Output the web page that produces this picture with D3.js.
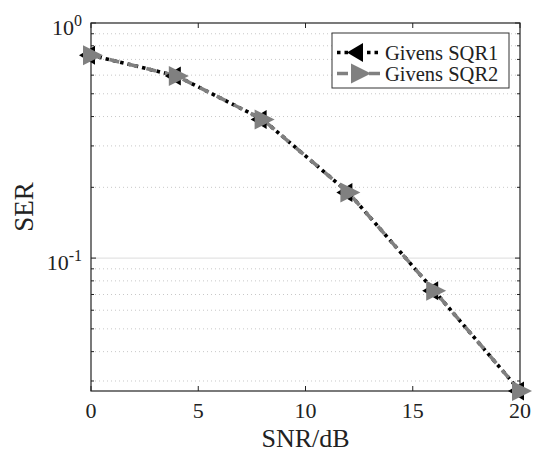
<!DOCTYPE html>
<html>
<head>
<meta charset="utf-8">
<script src="https://cdn.jsdelivr.net/npm/d3@7"></script>
<style>
  body { margin: 0; background: #fff; }
</style>
</head>
<body>
<script>
// chart data
const snr = [0, 4, 8, 12, 16, 20];
const serSQR1 = [0.73, 0.595, 0.389, 0.190, 0.0726, 0.0272];
const serSQR2 = [0.73, 0.595, 0.389, 0.190, 0.0726, 0.0272];
const seriesNames = ["Givens SQR1", "Givens SQR2"];
const xTicks = [0, 5, 10, 15, 20];
const yMajor = [1, 0.1];
const yMinor = [0.03, 0.04, 0.05, 0.06, 0.07, 0.08, 0.09, 0.2, 0.3, 0.4, 0.5, 0.6, 0.7, 0.8, 0.9];

const width = 535, height = 457;
const padL = 91, padR = 520, padT = 23, padB = 391;

const svg = d3.select("body").append("svg")
  .attr("width", width)
  .attr("height", height)
  .style("font-family", "'Liberation Serif', 'Times New Roman', Times, serif");

const x = d3.scaleLinear().domain([0, 20]).range([padL, padR]);
const y = d3.scaleLog().domain([0.0272, 1]).range([padB, padT]);

// grid
svg.append("g").selectAll("line")
  .data(yMinor)
  .join("line")
  .attr("x1", padL).attr("x2", padR)
  .attr("y1", d => y(d)).attr("y2", d => y(d))
  .attr("stroke", "#c8c8c8")
  .attr("stroke-width", 1)
  .attr("stroke-dasharray", "1,3");

svg.append("line")
  .attr("x1", padL).attr("x2", padR)
  .attr("y1", y(0.1)).attr("y2", y(0.1))
  .attr("stroke", "#e3e3e3")
  .attr("stroke-width", 1.2);

// ticks (inward, on all four sides)
const ticks = svg.append("g").attr("stroke", "#222").attr("stroke-width", 1);
xTicks.forEach(t => {
  ticks.append("line").attr("x1", x(t)).attr("x2", x(t)).attr("y1", padB).attr("y2", padB - 5);
  ticks.append("line").attr("x1", x(t)).attr("x2", x(t)).attr("y1", padT).attr("y2", padT + 5);
});
yMajor.concat(yMinor).forEach(t => {
  const len = yMajor.includes(t) ? 5 : 3;
  ticks.append("line").attr("x1", padL).attr("x2", padL + len).attr("y1", y(t)).attr("y2", y(t));
  ticks.append("line").attr("x1", padR).attr("x2", padR - len).attr("y1", y(t)).attr("y2", y(t));
});

// axes box
svg.append("rect")
  .attr("x", padL).attr("y", padT)
  .attr("width", padR - padL).attr("height", padB - padT)
  .attr("fill", "none")
  .attr("stroke", "#222")
  .attr("stroke-width", 1.2);

// tick labels
svg.append("g").selectAll("text")
  .data(xTicks)
  .join("text")
  .attr("x", d => x(d))
  .attr("y", padB + 27)
  .attr("text-anchor", "middle")
  .attr("font-size", 22)
  .attr("fill", "#222")
  .text(d => d);

const yl = svg.append("g").selectAll("text")
  .data([[1, "0"], [0.1, "-1"]])
  .join("text")
  .attr("x", 82)
  .attr("y", d => y(d[0]) + 12)
  .attr("text-anchor", "end")
  .attr("font-size", 22)
  .attr("fill", "#222");
yl.append("tspan").text("10");
yl.append("tspan").attr("dy", -9).attr("font-size", 16).text(d => d[1]);

// axis labels
svg.append("text")
  .attr("x", (padL + padR) / 2)
  .attr("y", 447)
  .attr("text-anchor", "middle")
  .attr("font-size", 26)
  .attr("fill", "#222")
  .text("SNR/dB");

svg.append("text")
  .attr("transform", `translate(33,${(padT + padB) / 2}) rotate(-90)`)
  .attr("text-anchor", "middle")
  .attr("font-size", 27)
  .attr("fill", "#222")
  .text("SER");

// markers
const triLeft = "M-12,0L4,-9.5L4,9.5Z";
const triRight = "M12,0L-8,-10L-8,10Z";

const line = d3.line().x(d => x(d[0])).y(d => y(d[1]));
const pts1 = snr.map((s, i) => [s, serSQR1[i]]);
const pts2 = snr.map((s, i) => [s, serSQR2[i]]);

svg.append("path")
  .attr("d", line(pts1))
  .attr("fill", "none")
  .attr("stroke", "#000")
  .attr("stroke-width", 3.6)
  .attr("stroke-dasharray", "3.5,4");

svg.append("path")
  .attr("d", line(pts2))
  .attr("fill", "none")
  .attr("stroke", "#808080")
  .attr("stroke-width", 3.6)
  .attr("stroke-dasharray", "10,9");

svg.append("g").selectAll("path")
  .data(pts1)
  .join("path")
  .attr("transform", d => `translate(${x(d[0])},${y(d[1])})`)
  .attr("d", triLeft)
  .attr("fill", "#000");

svg.append("g").selectAll("path")
  .data(pts2)
  .join("path")
  .attr("transform", d => `translate(${x(d[0])},${y(d[1])})`)
  .attr("d", triRight)
  .attr("fill", "#808080");

// legend
const lg = svg.append("g");
lg.append("rect")
  .attr("x", 332).attr("y", 33)
  .attr("width", 177).attr("height", 55)
  .attr("fill", "#fff")
  .attr("stroke", "#333")
  .attr("stroke-width", 1);

const rows = [
  { name: seriesNames[0], color: "#000", dash: "3.5,4", tri: triLeft, yy: 52.5 },
  { name: seriesNames[1], color: "#808080", dash: "11,5", tri: triRight, yy: 73.5 }
];
rows.forEach(r => {
  lg.append("line")
    .attr("x1", 337).attr("x2", 381)
    .attr("y1", r.yy).attr("y2", r.yy)
    .attr("stroke", r.color)
    .attr("stroke-width", 3.6)
    .attr("stroke-dasharray", r.dash);
  lg.append("path")
    .attr("transform", `translate(359,${r.yy})`)
    .attr("d", r.tri)
    .attr("fill", r.color);
  lg.append("text")
    .attr("x", 385).attr("y", r.yy + 7)
    .attr("font-size", 20.5)
    .attr("fill", "#222")
    .text(r.name);
});
</script>
</body>
</html>
